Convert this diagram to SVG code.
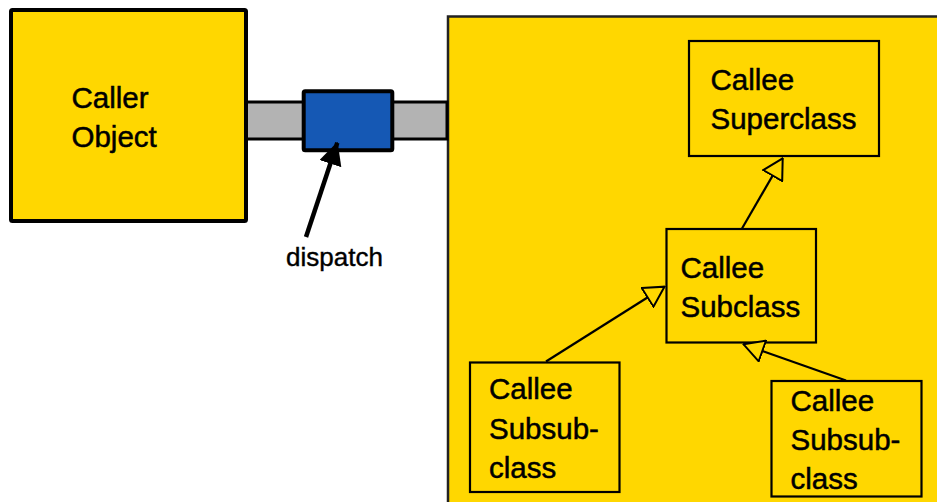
<svg xmlns="http://www.w3.org/2000/svg" width="937" height="502" viewBox="0 0 937 502">
<defs>
<style>
.lbl{font-family:"Liberation Sans",Arial,Helvetica,sans-serif;font-size:29.5px;fill:#000;stroke:#000;stroke-width:0.5}
.cls{fill:#FFD700;stroke:#000;stroke-width:2.2}
.gen{stroke:#000;stroke-width:2.2;fill:none}
</style>
<marker id="hollow" markerUnits="userSpaceOnUse" viewBox="0 0 22 24" refX="21" refY="12" markerWidth="22" markerHeight="24" orient="auto">
<path d="M1,1 L21,12 L1,23 Z" fill="#FFD700" stroke="#000" stroke-width="2"/>
</marker>
<marker id="solid" markerUnits="userSpaceOnUse" viewBox="0 0 23 23" refX="22" refY="11.5" markerWidth="23" markerHeight="23" orient="auto">
<path d="M0,0 L23,11.5 L0,23 Z" fill="#000"/>
</marker>
</defs>
<rect width="937" height="502" fill="#fff"/>
<g id="callee-container">
<rect x="448" y="16.5" width="500" height="500" fill="#FFD700" stroke="#222" stroke-width="2.5"/>
</g>
<g id="bar">
<rect x="246" y="102" width="201" height="37" fill="#B3B3B3" stroke="#000" stroke-width="3"/>
</g>
<g id="caller">
<rect x="11" y="10" width="235" height="211" rx="1.5" fill="#FFD700" stroke="#000" stroke-width="4"/>
<text class="lbl" x="71.5" y="108">Caller</text>
<text class="lbl" x="71.5" y="147">Object</text>
</g>
<g id="dispatch-box">
<rect x="303.7" y="91.3" width="88.6" height="59" rx="1.5" fill="#1558B4" stroke="#000" stroke-width="4"/>
</g>
<g id="superclass">
<rect class="cls" x="689" y="41" width="190" height="115"/>
<text class="lbl" x="710.5" y="90">Callee</text>
<text class="lbl" x="710.5" y="128.5">Superclass</text>
</g>
<g id="subclass">
<rect class="cls" x="666.5" y="229" width="149.5" height="113.5"/>
<text class="lbl" x="680.5" y="278">Callee</text>
<text class="lbl" x="680.5" y="317">Subclass</text>
</g>
<g id="subsub-left">
<rect class="cls" x="470" y="362.5" width="149.5" height="129.5"/>
<text class="lbl" x="489" y="399">Callee</text>
<text class="lbl" x="489" y="439">Subsub-</text>
<text class="lbl" x="489" y="478">class</text>
</g>
<g id="subsub-right">
<rect class="cls" x="771.5" y="381" width="150" height="115.5"/>
<text class="lbl" x="790.5" y="410.5">Callee</text>
<text class="lbl" x="790.5" y="450">Subsub-</text>
<text class="lbl" x="790.5" y="489">class</text>
</g>
<g id="connectors">
<line class="gen" x1="742" y1="228.5" x2="782.7" y2="158.3" marker-end="url(#hollow)"/>
<line class="gen" x1="546" y1="361.5" x2="664.5" y2="286.7" marker-end="url(#hollow)"/>
<line class="gen" x1="846" y1="380.5" x2="743.5" y2="344.3" marker-end="url(#hollow)"/>
<line x1="306" y1="237" x2="337.3" y2="142.7" stroke="#000" stroke-width="4.5" marker-end="url(#solid)"/>
<text class="lbl" x="286" y="265.5" style="font-size:26px;stroke-width:0.4">dispatch</text>
</g>
</svg>
